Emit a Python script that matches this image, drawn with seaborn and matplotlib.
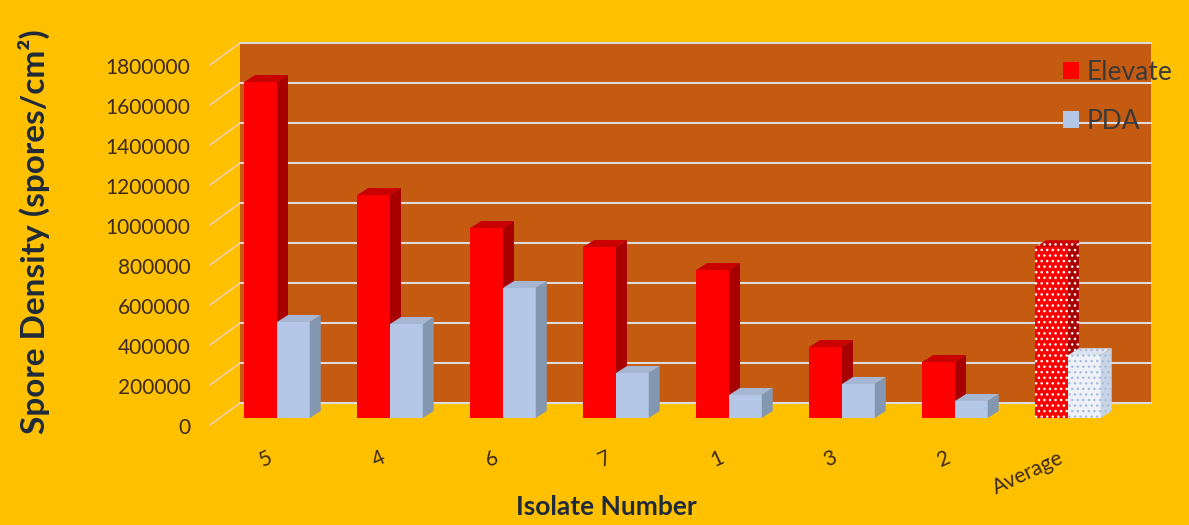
import numpy as np
import pandas as pd
import matplotlib
matplotlib.use("Agg")
import matplotlib.pyplot as plt
import matplotlib.transforms as mtransforms
from matplotlib.patches import Rectangle, Polygon
from matplotlib.lines import Line2D
import seaborn as sns

# Spore density per isolate on the two media
isolates = ["5", "4", "6", "7", "1", "3", "2", "Average"]
elevate = [1680000, 1115000, 950000, 855000, 740000, 355000, 280000, 854000]
pda = [480000, 470000, 650000, 225000, 115000, 170000, 85000, 314000]
media = ["Elevate", "PDA"]
y_ticks = [0, 200000, 400000, 600000, 800000, 1000000, 1200000, 1400000, 1600000, 1800000]

df = pd.DataFrame({
    "Isolate": isolates * 2,
    "Medium": [media[0]] * len(isolates) + [media[1]] * len(isolates),
    "Density": elevate + pda,
})

GOLD = "#FFC000"
WALL = "#C55A11"
GRID = "#DCDCDC"
TXT = "#3D2B1F"
TITLE = "#1F2A3A"
front = {"Elevate": "#FF0000", "PDA": "#B4C7E7"}
side = {"Elevate": "#A80000", "PDA": "#8497B0"}
top = {"Elevate": "#C80000", "PDA": "#A5B7D2"}

sns.set_theme(style="white")
plt.rcParams["font.family"] = ["Lato", "DejaVu Sans"]

W, H, DPI = 1189, 525, 100
fig = plt.figure(figsize=(W / DPI, H / DPI), dpi=DPI, facecolor=GOLD)


def box(x0, y0, x1, y1):
    # pixel box (top-left origin) -> figure fraction rect
    return [x0 / W, 1 - y1 / H, (x1 - x0) / W, (y1 - y0) / H]


ax = fig.add_axes(box(232, 58, 1143, 418))
ax.set_facecolor("none")

sns.barplot(data=df, x="Isolate", y="Density", hue="Medium",
            order=isolates, hue_order=media, palette=front,
            saturation=1, width=0.58, gap=0, linewidth=0,
            errorbar=None, legend=False, ax=ax)
bars = list(ax.patches)

ax.set_xlim(-0.398, 7.664)
ax.set_ylim(0, 1800000)
for s in ax.spines.values():
    s.set_visible(False)
ax.grid(False)
ax.set_xlabel("")
ax.set_ylabel("")

# back wall and its gridlines, set behind the front plane
wall_off = mtransforms.ScaledTranslation(8 / DPI, 15 / DPI, fig.dpi_scale_trans)
ax.add_patch(Rectangle((0, 0), 1, 1, transform=ax.transAxes + wall_off,
                       facecolor=WALL, edgecolor="none", zorder=0, clip_on=False))
grid_trans = mtransforms.blended_transform_factory(ax.transAxes, ax.transData) + wall_off
for v in y_ticks:
    ax.add_line(Line2D([0, 1], [v, v], transform=grid_trans, color=GRID,
                       lw=1.5, zorder=0.5, clip_on=False))

# ticks
ax.set_yticks(y_ticks)
ax.set_yticklabels([str(v) for v in y_ticks])
ax.tick_params(axis="y", length=0, pad=30, labelsize=15, labelcolor=TXT)
ax.set_xticks(range(len(isolates)))
ax.set_xticklabels(isolates, rotation=25, ha="right", va="center",
                   rotation_mode="anchor")
ax.tick_params(axis="x", length=0, pad=28, labelsize=15, labelcolor=TXT)
lab_shift = mtransforms.ScaledTranslation(0, -8 / DPI, fig.dpi_scale_trans)
for lbl in ax.get_yticklabels():
    lbl.set_transform(lbl.get_transform() + lab_shift)
x_shift = mtransforms.ScaledTranslation(-6 / DPI, 0, fig.dpi_scale_trans)
for lbl in ax.get_xticklabels():
    lbl.set_transform(lbl.get_transform() + x_shift)

fig.canvas.draw()
ident = mtransforms.IdentityTransform()

# floor-edge connectors from the labels to the wall
x_left = ax.transAxes.transform((0, 0))[0]
for v in y_ticks:
    yd = ax.transData.transform((0, v))[1]
    ax.add_line(Line2D([x_left - 22, x_left + 8], [yd - 7, yd + 15],
                       transform=ident, color="#F3D2C2", lw=1.0,
                       zorder=0.5, clip_on=False))

# give each bar depth: a side face and a top face
depth = np.array([11.0, 7.0])
n = len(isolates)
for i, p in enumerate(bars):
    med = media[i // n]
    z = 2 if med == "Elevate" else 3
    p.set_zorder(z)
    x0, y0 = p.get_x(), p.get_y()
    x1, y1 = x0 + p.get_width(), y0 + p.get_height()
    bl, br, tr, tl = (ax.transData.transform(c) for c in
                      [(x0, y0), (x1, y0), (x1, y1), (x0, y1)])
    avg = isolates[i % n] == "Average"
    sc, tc = side[med], top[med]
    if avg:
        if med == "Elevate":
            p.set_edgecolor("white")
        else:
            p.set_facecolor("#EEF2F8")
            p.set_edgecolor("#A9BEDD")
            sc, tc = "#C9D5E6", "#DCE4F0"
        p.set_hatch("...")
        p.set_linewidth(0)
    sp = Polygon([br, br + depth, tr + depth, tr], closed=True, transform=ident,
                 facecolor=sc, edgecolor="none", zorder=z, clip_on=False)
    tp = Polygon([tl, tr, tr + depth, tl + depth], closed=True, transform=ident,
                 facecolor=tc, edgecolor="none", zorder=z, clip_on=False)
    if avg:
        ec = "white" if med == "Elevate" else "#A9BEDD"
        for q in (sp, tp):
            q.set_hatch("...")
            q.set_edgecolor(ec)
            q.set_linewidth(0)
    ax.add_patch(sp)
    ax.add_patch(tp)

# axis titles
fig.text(34 / W, 1 - 232 / H, "Spore Density (spores/cm²)", rotation=90,
         ha="center", va="center", fontsize=24, fontweight="bold", color=TITLE)
fig.text(606 / W, 1 - 507 / H, "Isolate Number", ha="center", va="center",
         fontsize=19, fontweight="bold", color=TITLE)

# legend
handles = [Rectangle((0, 0), 1, 1, facecolor=front[m], edgecolor="none") for m in media]
ax.legend(handles, media, loc="upper left", bbox_to_anchor=(1063 / W, 1 - 60 / H),
          bbox_transform=fig.transFigure, frameon=False, fontsize=19,
          handlelength=0.6, handleheight=0.6, handletextpad=0.3,
          labelspacing=0.9, borderpad=0, borderaxespad=0, labelcolor="#3A3A3A")

fig.savefig("out.png", dpi=DPI, facecolor=GOLD)
